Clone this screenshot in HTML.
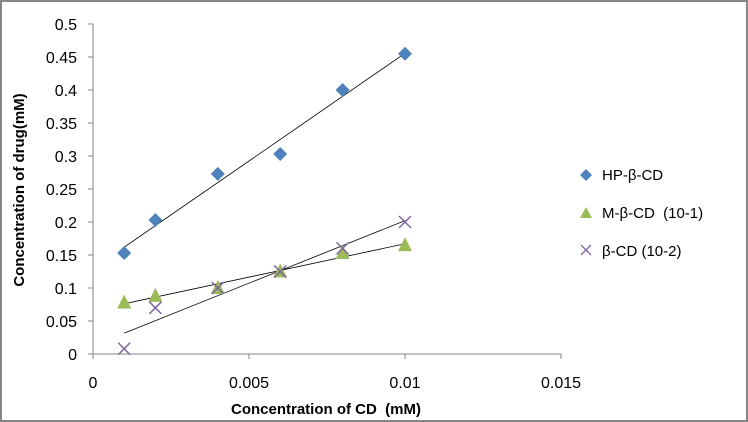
<!DOCTYPE html>
<html><head><meta charset="utf-8"><style>
body{margin:0;background:#fff}
svg{display:block;font-family:"Liberation Sans",sans-serif}
text{white-space:pre}
</style></head><body>
<svg width="748" height="422" id="c">
<rect x="1" y="1" width="746" height="420" fill="#fff" stroke="#868686" stroke-width="2"/>
<g id="axes"></g>
<g id="marks"></g>
<text x="0" y="0" transform="translate(24,190) rotate(-90)" text-anchor="middle" font-size="15" font-weight="bold">Concentration of drug(mM)</text>
<text x="326" y="414" text-anchor="middle" font-size="15" font-weight="bold">Concentration of CD  (mM)</text>
<g font-size="15">
<polygon points="586,169 592,175 586,181 580,175" fill="#4f81bd"/>
<text x="602" y="180">HP-β-CD</text>
<polygon points="586,207 592,218 580,218" fill="#9bbb59"/>
<text x="602" y="218">M-β-CD  (10-1)</text>
<path d="M581,245 L591,255 M591,245 L581,255" stroke="#8064a2" stroke-width="1.3"/>
<text x="602" y="256">β-CD (10-2)</text>
</g>
</svg>
<script>
const xs=[0.001,0.002,0.004,0.006,0.008,0.01];
const hp=[0.153,0.203,0.273,0.303,0.400,0.455];
const mb=[0.078,0.088,0.100,0.125,0.153,0.165];
const bc=[0.008,0.070,0.100,0.125,0.160,0.200];
const xTicks=[0,0.005,0.01,0.015];
const xTickLabels=["0","0.005","0.01","0.015"];
const yTicks=[0,0.05,0.1,0.15,0.2,0.25,0.3,0.35,0.4,0.45,0.5];
const yTickLabels=["0","0.05","0.1","0.15","0.2","0.25","0.3","0.35","0.4","0.45","0.5"];
const X=v=>93+v/0.015*468, Y=v=>354-v/0.5*330;
const NS="http://www.w3.org/2000/svg";
const ax=document.getElementById('axes'), mk=document.getElementById('marks');
function el(t,a,p){const e=document.createElementNS(NS,t);for(const k in a)e.setAttribute(k,a[k]);p.appendChild(e);return e;}
let l=el('line',{x1:X(0),y1:Y(0),x2:X(0),y2:Y(0.5),stroke:'#868686'},ax);


l=el('line',{x1:X(0),y1:Y(0),x2:X(0.015),y2:Y(0),stroke:'#868686'},ax);


yTicks.forEach((v,i)=>{
 el('line',{x1:88,x2:93,y1:Y(v),y2:Y(v),stroke:'#868686'},ax);
 const t=el('text',{x:77,y:Y(v)+6,'text-anchor':'end','font-size':'16'},ax);t.textContent=yTickLabels[i];
 
 
});
xTicks.forEach((v,i)=>{
 el('line',{x1:X(v),x2:X(v),y1:354,y2:359,stroke:'#868686'},ax);
 const t=el('text',{x:X(v),y:388,'text-anchor':'middle','font-size':'16'},ax);t.textContent=xTickLabels[i];
 
 
});
function trend(ys,name){
 const n=xs.length,mx=xs.reduce((a,b)=>a+b)/n,my=ys.reduce((a,b)=>a+b)/n;
 let sxy=0,sxx=0;xs.forEach((x,i)=>{sxy+=(x-mx)*(ys[i]-my);sxx+=(x-mx)**2});
 const b=sxy/sxx,a=my-b*mx,x0=xs[0],x1=xs[n-1];
 const e=el('line',{x1:X(x0),y1:Y(a+b*x0),x2:X(x1),y2:Y(a+b*x1),stroke:'#000','stroke-width':'0.8'},mk);
 
 
}
trend(hp,'trendline-hp');trend(mb,'trendline-m');trend(bc,'trendline-b');
xs.forEach((x,i)=>{
 const cx=X(x),cy=Y(hp[i]);
 const d=el('polygon',{points:`${cx},${cy-7} ${cx+7},${cy} ${cx},${cy+7} ${cx-7},${cy}`,fill:'#4f81bd'},mk);
 
 
 const ty=Y(mb[i]);
 const t=el('polygon',{points:`${cx},${ty-8} ${cx+7},${ty+6} ${cx-7},${ty+6}`,fill:'#9bbb59'},mk);
 
 
 const by=Y(bc[i]);
 const c=el('path',{d:`M${cx-6},${by-6}L${cx+6},${by+6}M${cx+6},${by-6}L${cx-6},${by+6}`,stroke:'#8064a2','stroke-width':'1.5'},mk);
 
 
});
</script>
</body></html>
